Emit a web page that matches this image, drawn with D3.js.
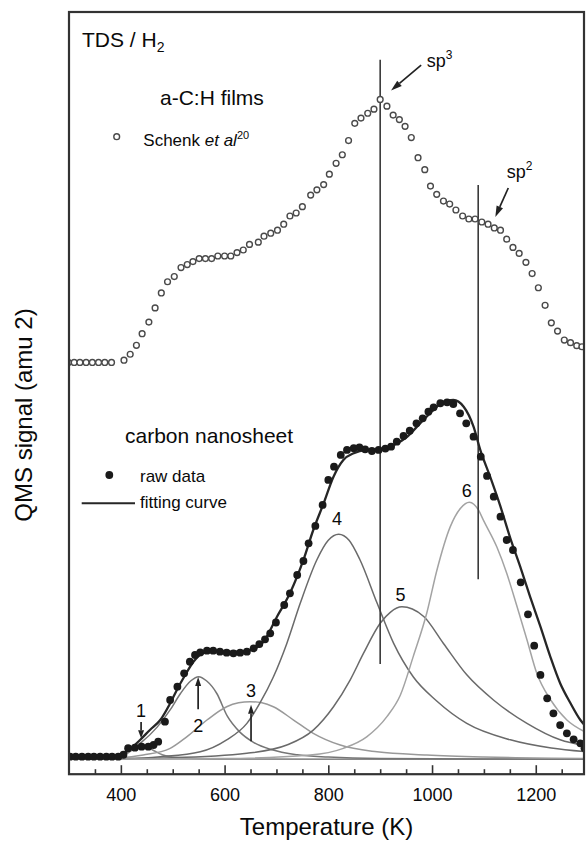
<!DOCTYPE html>
<html><head><meta charset="utf-8">
<script src="https://cdn.jsdelivr.net/npm/d3@7"></script>
<style>
body{margin:0;background:#fff}
text{font-family:"Liberation Sans",Arial,sans-serif;fill:#0a0a0a}
</style>
</head><body>
<svg id="c" width="586" height="842"></svg>
<script>
// ---------- data (Temperature in K, signal in arbitrary units) ----------
const schenkT = [299,310,321,333,345,357,369,382,406,418,430,441,454,466,478,490,503,516,528,539,551,563,575,587,600,612,624,636,648,665,676,689,702,714,726,738,750,766,778,791,802,815,827,839,851,863,876,888,900,913,925,937,948,960,973,986,997,1009,1022,1034,1046,1059,1071,1083,1096,1108,1120,1132,1144,1156,1168,1181,1193,1205,1218,1230,1242,1255,1267,1279,1289];
const schenkV = [53.1,53.1,53.1,53.1,53.1,53.1,53.1,53.1,53.4,54.2,55.4,56.95,58.5,60.4,62.4,63.9,64.6,65.8,66.2,66.6,67.0,67.0,67.0,67.35,67.35,67.35,67.8,68.15,68.9,69.2,70.0,70.4,70.8,71.6,72.7,73.1,73.95,75.5,76.2,76.9,78.3,79.75,80.9,82.8,85.1,85.8,86.45,87.0,88.3,87.4,86.2,85.6,84.7,83.2,80.5,78.9,76.7,75.6,74.7,74.3,73.5,72.7,72.3,72.3,71.9,71.6,71.1,70.8,69.6,68.5,67.7,66.5,65.0,63.1,60.75,58.4,57.3,56.1,55.75,55.35,55.2];

const rawT = [302,313,325,337,348,360,372,383,395,405,414,427,440,453,463,472,485,495,509,522,533,543,553,566,578,591,604,617,630,643,656,667,678,688,699,715,726,740,752,762,775,789,800,811,824,836,849,860,871,884,897,910,921,932,945,957,970,982,993,1003,1016,1029,1041,1054,1066,1080,1094,1106,1119,1132,1144,1156,1171,1185,1197,1209,1222,1234,1247,1260,1273,1286,1294];
const rawV = [0.35,0.35,0.35,0.35,0.35,0.35,0.35,0.35,0.35,0.6,1.47,1.55,1.68,1.68,1.91,2.35,5.03,7.93,9.71,11.5,13.05,13.95,14.3,14.53,14.53,14.39,14.26,14.18,14.26,14.39,14.84,15.42,16.05,16.85,18.3,20.64,22.21,24.66,26.53,28.9,31.22,34.03,37.38,39.16,40.72,41.39,41.62,41.75,41.48,41.25,41.39,41.57,41.83,42.5,43.26,43.97,44.96,45.63,46.52,47.1,47.64,47.77,47.54,46.3,44.96,43.17,40.49,37.91,35.14,32.46,29.34,28.0,23.68,19.4,15.2,11.28,8.16,6.15,4.58,3.47,2.67,2.13,1.47];

const fitT = [300,395,411,437,456,476,495,508,524,540,559,585,617,649,675,701,726,752,771,791,810,829,849,874,900,926,952,977,1003,1022,1041,1061,1080,1093,1112,1132,1151,1170,1189,1209,1228,1247,1267,1286,1297];
const fitV = [0.35,0.35,1.0,2.58,3.92,5.25,7.48,9.27,11.27,13.05,14.18,14.53,14.39,14.62,15.73,19.08,22.21,26.67,30.68,34.25,37.81,40.05,40.95,41.39,41.48,42.05,43.16,44.95,46.74,47.85,48.08,47.18,44.51,41.39,37.81,33.8,29.57,25.77,21.76,17.74,13.73,10.17,7.49,5.25,4.36];

const peak1T = [300,380,400,415,428,440,452,465,480,500,530,600,800,1297];
const peak1V = [0,0.1,0.4,0.9,1.5,1.8,1.6,1.1,0.6,0.3,0.15,0.05,0,0];
const peak2T = [300,380,410,440,470,495,515,535,550,565,585,605,630,655,690,740,800,900,1297];
const peak2V = [0,0.3,1.0,2.3,4.3,6.6,8.8,10.5,11.05,10.5,8.8,5.8,3.6,2.3,1.3,0.6,0.3,0.1,0];
const peak3T = [300,400,443,495,527,566,604,627,649,672,694,733,771,823,894,990,1100,1297];
const peak3V = [0,0.2,0.57,1.46,3.0,5.25,7.03,7.55,7.7,7.55,7.03,5.25,3.47,1.9,1.0,0.57,0.3,0.1];
const peak4T = [300,420,476,553,604,643,668,694,720,746,778,800,820,840,861,894,926,964,1009,1067,1151,1230,1297];
const peak4V = [0,0.1,0.34,1.0,2.6,4.8,7.5,11.0,15.5,20.9,26.7,29.3,30.1,29.3,26.7,20.9,15.5,11.0,7.8,4.8,2.6,1.5,1.0];
const peak5T = [300,500,643,720,771,810,842,868,900,920,942,962,984,1022,1067,1119,1183,1247,1297];
const peak5V = [0,0.2,0.8,1.9,3.9,7.03,10.6,14.2,18.2,19.7,20.4,20.1,19.1,15.5,11.3,7.9,4.8,2.6,1.8];
const peak6T = [300,600,765,829,874,913,939,964,990,1009,1035,1055,1072,1090,1099,1125,1144,1164,1183,1202,1228,1260,1297];
const peak6V = [0,0.1,0.57,1.46,3.0,5.7,8.6,13.8,19.6,25.2,31.1,33.6,34.4,33.3,32.0,28.4,24.9,20.4,16.0,11.5,8.0,5.25,3.6];

const peakNames = ["1","2","3","4","5","6"];
const peakLabelT = [439,549,651,817,939,1067];
const peakLabelV = [5.7,3.7,8.3,31.35,21.2,35.1];
const majorTicks = [400,600,800,1000,1200];
const minorTicks = [350,450,500,550,650,700,750,850,900,950,1050,1100,1150,1250];
const sp3T = 900, sp2T = 1089;

// ---------- layout ----------
const L = 69, R = 584, T0 = 12, B = 774.2;
const svg = d3.select("#c");
const x = d3.scaleLinear().domain([300, 1293]).range([L, R]);
const y = d3.scaleLinear().domain([-2, 100]).range([B, T0]);

svg.append("clipPath").attr("id","clip").append("rect")
  .attr("x", L).attr("y", T0).attr("width", R-L).attr("height", B-T0);
const plot = svg.append("g").attr("clip-path","url(#clip)");

const zip = (a,b) => a.map((t,i)=>[t,b[i]]);
const line = d3.line().x(d=>x(d[0])).y(d=>y(d[1])).curve(d3.curveMonotoneX);

const peaks = [
  {T:peak1T,V:peak1V,c:"#888"},
  {T:peak2T,V:peak2V,c:"#757575"},
  {T:peak3T,V:peak3V,c:"#999"},
  {T:peak4T,V:peak4V,c:"#6a6a6a"},
  {T:peak5T,V:peak5V,c:"#6a6a6a"},
  {T:peak6T,V:peak6V,c:"#a3a3a3"}
];
plot.append("line").attr("x1",L).attr("x2",R).attr("y1",y(0)).attr("y2",y(0))
  .attr("stroke","#999").attr("stroke-width",1.2);
peaks.forEach(p=>{
  plot.append("path").datum(zip(p.T,p.V)).attr("d",line)
    .attr("fill","none").attr("stroke",p.c).attr("stroke-width",1.5);
});

[[sp3T,93.6,12.75],[sp2T,76.85,24.1]].forEach(([t,v1,v2])=>{
  plot.append("line").attr("x1",x(t)).attr("x2",x(t)).attr("y1",y(v1)).attr("y2",y(v2))
    .attr("stroke","#3a3a3a").attr("stroke-width",1.6);
});

plot.append("path").datum(zip(fitT,fitV)).attr("d",line)
  .attr("fill","none").attr("stroke","#262626").attr("stroke-width",2.3);

plot.selectAll(".raw").data(zip(rawT,rawV)).join("circle")
  .attr("cx",d=>x(d[0])).attr("cy",d=>y(d[1])).attr("r",3.9).attr("fill","#1a1a1a");

plot.selectAll(".sch").data(zip(schenkT,schenkV)).join("circle")
  .attr("cx",d=>x(d[0])).attr("cy",d=>y(d[1])).attr("r",2.9)
  .attr("fill","#fff").attr("stroke","#4a4a4a").attr("stroke-width",1.4);

// ---------- frame and axis ----------
svg.append("rect").attr("x",L).attr("y",T0).attr("width",R-L).attr("height",B-T0)
  .attr("fill","none").attr("stroke","#333").attr("stroke-width",2.2);

const gMinor = svg.append("g").attr("transform",`translate(0,${B})`)
  .call(d3.axisBottom(x).tickValues(minorTicks).tickSize(-5).tickFormat(""));
const gMajor = svg.append("g").attr("transform",`translate(0,${B})`)
  .call(d3.axisBottom(x).tickValues(majorTicks).tickSize(-9).tickPadding(14).tickFormat(d3.format("d")));
[gMinor,gMajor].forEach(g=>{
  g.select(".domain").remove();
  g.selectAll(".tick line").attr("stroke","#333").attr("stroke-width",1.6);
});
gMajor.selectAll(".tick text").attr("font-size",18).attr("fill","#0a0a0a")
  .style("font-family",'"Liberation Sans",Arial,sans-serif');

svg.append("text").attr("x",(L+R)/2).attr("y",835).attr("text-anchor","middle")
  .attr("font-size",24).text("Temperature (K)");
svg.append("text").attr("transform","translate(32,415) rotate(-90)").attr("text-anchor","middle")
  .attr("font-size",24).text("QMS signal (amu 2)");

// ---------- annotations ----------
const t1 = svg.append("text").attr("x",82).attr("y",46.7).attr("font-size",21);
t1.append("tspan").text("TDS / H");
t1.append("tspan").attr("font-size",14).attr("dy",5).text("2");

svg.append("text").attr("x",160).attr("y",105).attr("font-size",21).text("a-C:H films");

svg.append("circle").attr("cx",116.7).attr("cy",136.7).attr("r",2.9)
  .attr("fill","#fff").attr("stroke","#4a4a4a").attr("stroke-width",1.4);
const t2 = svg.append("text").attr("x",143.3).attr("y",145.7).attr("font-size",17);
t2.append("tspan").text("Schenk ");
t2.append("tspan").attr("font-style","italic").text("et al");
t2.append("tspan").attr("font-size",11).attr("dy",-7).text("20");

svg.append("text").attr("x",125).attr("y",443.3).attr("font-size",21).text("carbon nanosheet");
svg.append("circle").attr("cx",109.3).attr("cy",475).attr("r",3.9).attr("fill","#1a1a1a");
svg.append("text").attr("x",140).attr("y",481.7).attr("font-size",17).text("raw data");
svg.append("line").attr("x1",81.7).attr("x2",135).attr("y1",503.3).attr("y2",503.3)
  .attr("stroke","#262626").attr("stroke-width",2);
svg.append("text").attr("x",140).attr("y",508.3).attr("font-size",17).text("fitting curve");

function sup(xp, yp, base, s){
  const t = svg.append("text").attr("x",xp).attr("y",yp).attr("font-size",18);
  t.append("tspan").text(base);
  t.append("tspan").attr("font-size",12).attr("dy",-8).text(s);
}
sup(x(990), y(92.68), "sp", "3");
sup(x(1144), y(77.8), "sp", "2");

function arrow(x1,y1,x2,y2,len,w){
  const a = Math.atan2(y2-y1,x2-x1);
  const bx = x2 - len*Math.cos(a), by = y2 - len*Math.sin(a);
  svg.append("line").attr("x1",x1).attr("y1",y1).attr("x2",bx).attr("y2",by)
    .attr("stroke","#222").attr("stroke-width",1.7);
  const px = -Math.sin(a)*w/2, py = Math.cos(a)*w/2;
  svg.append("path").attr("d",`M${x2},${y2}L${bx+px},${by+py}L${bx-px},${by-py}Z`).attr("fill","#222");
}
arrow(x(979), y(92.9), x(921), y(89.5), 11, 7);
arrow(x(1147), y(76.45), x(1122), y(72.57), 11, 7);

peakNames.forEach((n,i)=>{
  svg.append("text").attr("x",x(peakLabelT[i])).attr("y",y(peakLabelV[i]))
    .attr("text-anchor","middle").attr("font-size",18).text(n);
});
arrow(x(439), y(5.0), x(439), y(2.8), 8, 6);
arrow(x(549), y(6.7), x(549), y(11.0), 9, 6);
arrow(x(651), y(2.4), x(651), y(7.3), 9, 6);
</script>
</body></html>
